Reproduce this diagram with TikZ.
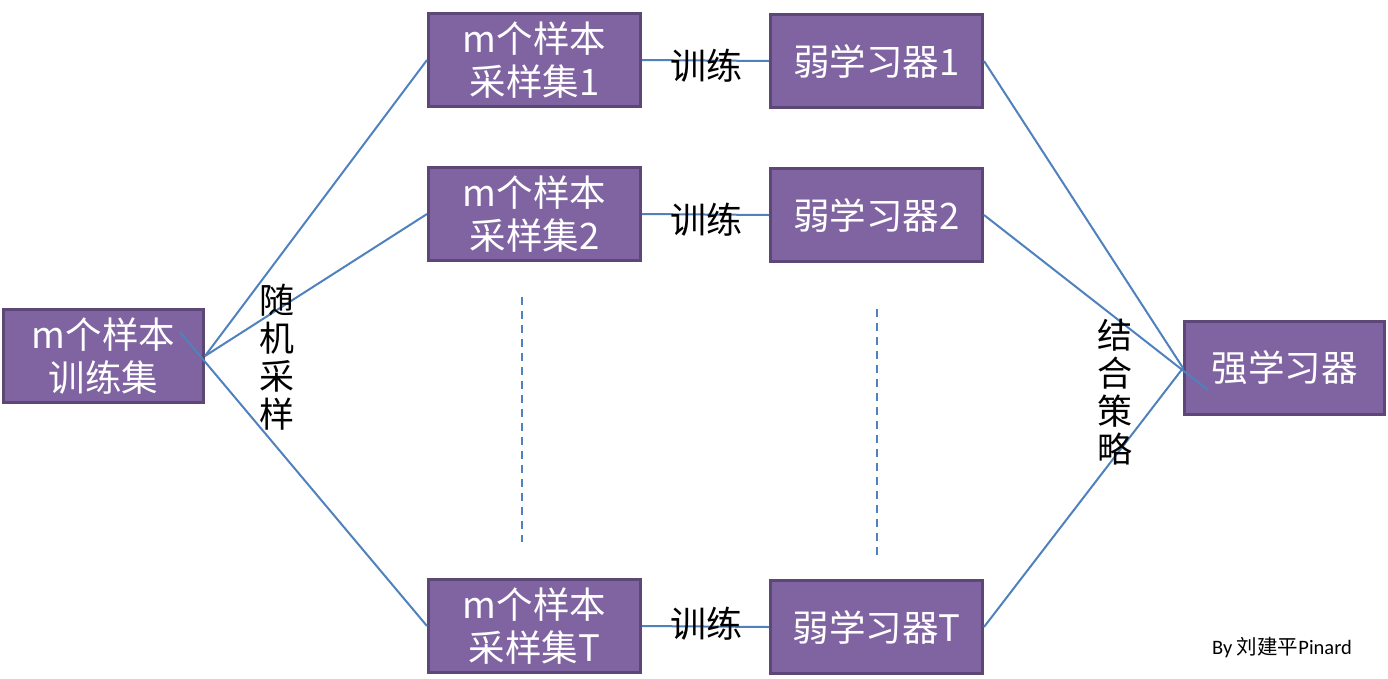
\documentclass[tikz,border=0pt]{standalone}
\usepackage{fontspec}
\newfontfamily\cjk{Noto Sans CJK SC}
\newfontfamily\carl{Carlito}
\definecolor{boxfill}{HTML}{8064A2}
\definecolor{boxline}{HTML}{5C4776}
\definecolor{conn}{HTML}{4F81BD}
\begin{document}
\begin{tikzpicture}[x=1pt,y=-1pt,
  box/.style={draw=boxline,fill=boxfill,line width=3pt,minimum width=212pt,minimum height=93pt,inner sep=0pt,
    text=white,align=center,font=\cjk\fontsize{36.5}{43}\selectfont},
  conn/.style={draw=conn,line width=2pt},
  lbl/.style={font=\cjk\fontsize{36}{38}\selectfont,text=black,inner sep=0pt},
  vlbl/.style={font=\cjk\fontsize{35}{38}\selectfont,text=black,align=center,inner sep=0pt}]
\useasboundingbox (0,0) rectangle (1388,678);
\node[box,minimum width=200pt] (train) at (103.5,356) {m个样本\\训练集};
\node[box] (s1) at (534.5,60) {m个样本\\采样集1};
\node[box] (s2) at (534.5,214) {m个样本\\采样集2};
\node[box] (sT) at (534.5,626) {m个样本\\采样集T};
\node[box] (w1) at (876.5,61) {弱学习器1};
\node[box] (w2) at (876.5,215) {弱学习器2};
\node[box] (wT) at (876.5,627) {弱学习器T};
\node[box,minimum width=200pt] (strong) at (1284.5,368) {强学习器};
\coordinate (tin) at (180,332);
\coordinate (sin) at (1208,390);
\coordinate (sj) at (1183,368);
\draw[conn] (train.east) -- (s1.west);
\draw[conn] (train.east) -- (s2.west);
\draw[conn] (tin) -- (sT.west);
\draw[conn] (w1.east) -- (sj);
\draw[conn] (w2.east) -- (sin);
\draw[conn] (wT.east) -- (sj);
\draw[conn] (s1.east) -- (w1.west);
\draw[conn] (s2.east) -- (w2.west);
\draw[conn] (sT.east) -- (wT.west);
\node[lbl] (l1) at (706,66) {训练};
\node[lbl] (l2) at (706,220) {训练};
\node[lbl] (l3) at (706,624) {训练};
\node[vlbl] (rs) at (277,357) {随\\机\\采\\样};
\node[vlbl] (cs) at (1115,392) {结\\合\\策\\略};
\coordinate (d1a) at (522,297);
\coordinate (d1b) at (522,542);
\coordinate (d2a) at (877,309);
\coordinate (d2b) at (877,555);
\draw[conn,dash pattern=on 8pt off 6pt] (d1a) -- (d1b);
\draw[conn,dash pattern=on 8pt off 6pt] (d2a) -- (d2b);
\node[font=\fontsize{20.5}{24}\selectfont,inner sep=0pt] (by) at (1282,648) {\carl By \cjk 刘建平\carl Pinard};
\end{tikzpicture}
\end{document}
